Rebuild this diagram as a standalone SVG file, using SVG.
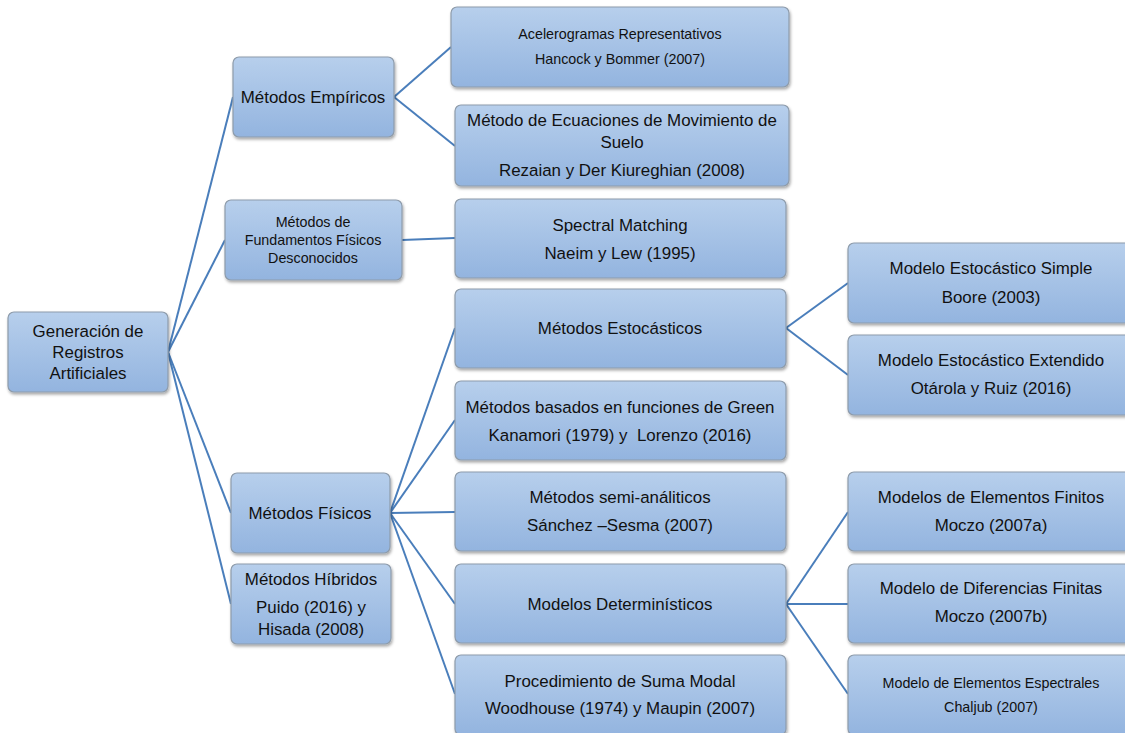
<svg xmlns="http://www.w3.org/2000/svg" width="1125" height="733" viewBox="0 0 1125 733">
<defs>
<linearGradient id="g" x1="0" y1="0" x2="0" y2="1">
<stop offset="0" stop-color="#b7cfec"/>
<stop offset="1" stop-color="#93b4df"/>
</linearGradient>
<filter id="sh" x="-10%" y="-10%" width="125%" height="130%">
<feDropShadow dx="1" dy="2" stdDeviation="1.5" flood-color="#000" flood-opacity="0.35"/>
</filter>
</defs>
<style>
rect.n{fill:url(#g);stroke:#8e9cab;stroke-width:1.2;filter:url(#sh)}
text{font-family:"Liberation Sans",Arial,sans-serif;font-size:16.9px;fill:#111;text-anchor:middle}
text.s{font-size:14.3px}
#connectors line{stroke:#4a7ebb;stroke-width:2}
</style>
<rect width="1125" height="733" fill="#fff"/>
<g id="connectors">
<line x1="168" y1="352" x2="233" y2="97"/>
<line x1="168" y1="352" x2="225" y2="240"/>
<line x1="168" y1="352" x2="231" y2="513"/>
<line x1="168" y1="352" x2="231" y2="604"/>
<line x1="394" y1="97" x2="451" y2="47"/>
<line x1="394" y1="97" x2="455" y2="146"/>
<line x1="402" y1="240" x2="455" y2="238"/>
<line x1="390" y1="513" x2="455" y2="328"/>
<line x1="390" y1="513" x2="455" y2="420"/>
<line x1="390" y1="513" x2="455" y2="512"/>
<line x1="390" y1="513" x2="455" y2="604"/>
<line x1="390" y1="513" x2="455" y2="694"/>
<line x1="786" y1="328" x2="848" y2="283"/>
<line x1="786" y1="328" x2="848" y2="375"/>
<line x1="786" y1="604" x2="848" y2="512"/>
<line x1="786" y1="604" x2="848" y2="604"/>
<line x1="786" y1="604" x2="848" y2="694"/>
</g>
<g id="root"><rect class="n" x="8" y="312" width="160" height="80" rx="6"/>
<text x="88" y="337">Generación de</text><text x="88" y="358">Registros</text><text x="88" y="379">Artificiales</text></g>
<g id="empiricos"><rect class="n" x="233" y="57" width="161" height="80" rx="6"/>
<text x="313" y="103">Métodos Empíricos</text></g>
<g id="acelerogramas"><rect class="n" x="451" y="7" width="338" height="80" rx="6"/>
<text class="s" x="620" y="39">Acelerogramas Representativos</text><text class="s" x="620" y="64">Hancock y Bommer (2007)</text></g>
<g id="ecuaciones"><rect class="n" x="455" y="105" width="334" height="81" rx="6"/>
<text x="622" y="126">Método de Ecuaciones de Movimiento de</text><text x="622" y="148">Suelo</text><text x="622" y="176">Rezaian y Der Kiureghian (2008)</text></g>
<g id="fundamentos"><rect class="n" x="225" y="200" width="177" height="80" rx="6"/>
<text class="s" x="313" y="227">Métodos de</text><text class="s" x="313" y="245">Fundamentos Físicos</text><text class="s" x="313" y="263">Desconocidos</text></g>
<g id="spectral"><rect class="n" x="455" y="199" width="331" height="79" rx="6"/>
<text x="620" y="231">Spectral Matching</text><text x="620" y="259">Naeim y Lew (1995)</text></g>
<g id="fisicos"><rect class="n" x="231" y="473" width="159" height="80" rx="6"/>
<text x="310" y="519">Métodos Físicos</text></g>
<g id="hibridos"><rect class="n" x="231" y="564" width="160" height="80" rx="6"/>
<text x="311" y="585">Métodos Híbridos</text><text x="311" y="613">Puido (2016) y</text><text x="311" y="635">Hisada (2008)</text></g>
<g id="estocasticos"><rect class="n" x="455" y="289" width="331" height="79" rx="6"/>
<text x="620" y="334">Métodos Estocásticos</text></g>
<g id="green"><rect class="n" x="455" y="381" width="331" height="79" rx="6"/>
<text x="620" y="413">Métodos basados en funciones de Green</text><text x="620" y="441" xml:space="preserve">Kanamori (1979) y  Lorenzo (2016)</text></g>
<g id="semianaliticos"><rect class="n" x="455" y="472" width="331" height="79" rx="6"/>
<text x="620" y="503">Métodos semi-análiticos</text><text x="620" y="531">Sánchez –Sesma (2007)</text></g>
<g id="deterministicos"><rect class="n" x="455" y="564" width="331" height="79" rx="6"/>
<text x="620" y="610">Modelos Determinísticos</text></g>
<g id="sumamodal"><rect class="n" x="455" y="655" width="331" height="80" rx="6"/>
<text x="620" y="687">Procedimiento de Suma Modal</text><text x="620" y="714">Woodhouse (1974) y Maupin (2007)</text></g>
<g id="simple"><rect class="n" x="848" y="243" width="286" height="80" rx="6"/>
<text x="991" y="274">Modelo Estocástico Simple</text><text x="991" y="303">Boore (2003)</text></g>
<g id="extendido"><rect class="n" x="848" y="335" width="286" height="80" rx="6"/>
<text x="991" y="366">Modelo Estocástico Extendido</text><text x="991" y="394">Otárola y Ruiz (2016)</text></g>
<g id="finitos"><rect class="n" x="848" y="472" width="286" height="79" rx="6"/>
<text x="991" y="503">Modelos de Elementos Finitos</text><text x="991" y="531">Moczo (2007a)</text></g>
<g id="diferencias"><rect class="n" x="848" y="564" width="286" height="79" rx="6"/>
<text x="991" y="594">Modelo de Diferencias Finitas</text><text x="991" y="622">Moczo (2007b)</text></g>
<g id="espectrales"><rect class="n" x="848" y="655" width="286" height="80" rx="6"/>
<text class="s" x="991" y="688">Modelo de Elementos Espectrales</text><text class="s" x="991" y="712">Chaljub (2007)</text></g>
</svg>
